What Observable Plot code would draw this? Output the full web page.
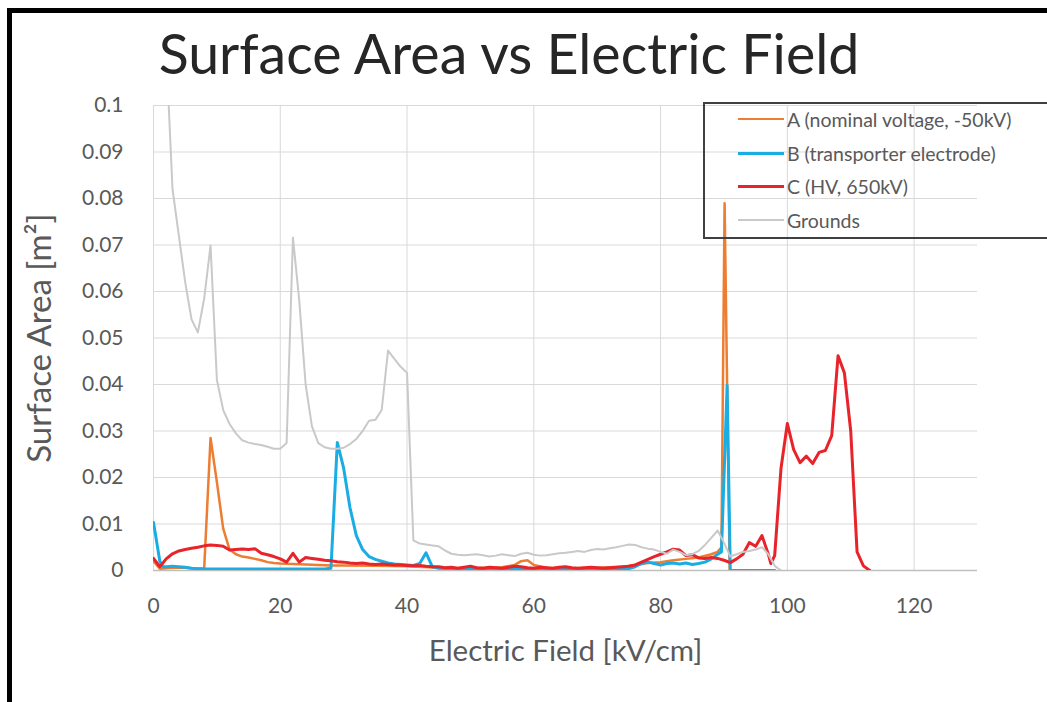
<!DOCTYPE html>
<html>
<head>
<meta charset="utf-8">
<script src="https://cdn.jsdelivr.net/npm/d3@7"></script>
<script src="https://cdn.jsdelivr.net/npm/@observablehq/plot@0.6"></script>
<style>
  html, body { margin: 0; padding: 0; background: #fff; }
  #page { position: relative; width: 1047px; height: 702px; overflow: hidden; background: #fff; font-family: Lato, "Open Sans", sans-serif; }
  #frame { position: absolute; left: 7px; top: 8px; width: 1200px; height: 900px; border-left: 5px solid #000; border-top: 5px solid #000; box-sizing: border-box; }
  #title { position: absolute; left: 0; top: 20px; width: 1018px; text-align: center; font-size: 55.5px; line-height: 66px; color: #262626; white-space: nowrap; }
  #chart { position: absolute; left: 0; top: 95px; }
  #legend { position: absolute; left: 703px; top: 102px; width: 400px; height: 137px; border: 2px solid #404040; box-sizing: border-box; }
  .item { position: absolute; left: 33px; height: 24px; display: flex; align-items: center; font-size: 19.5px; color: #595959; white-space: nowrap; }
  .swatch { width: 46px; margin-right: 3px; }
</style>
</head>
<body>
<div id="page">
  <div id="frame"></div>
  <div id="title"></div>
  <div id="chart"></div>
  <div id="legend"></div>
</div>
<script>
// Chart text
const titleText = "Surface Area vs Electric Field";
const xLabel = "Electric Field [kV/cm]";
const yLabel = "Surface Area [m²]";

// Axis ticks and their labels
const xTicks = [0, 20, 40, 60, 80, 100, 120];
const xTickLabels = ["0", "20", "40", "60", "80", "100", "120"];
const yTicks = [0, 0.01, 0.02, 0.03, 0.04, 0.05, 0.06, 0.07, 0.08, 0.09, 0.1];
const yTickLabels = ["0", "0.01", "0.02", "0.03", "0.04", "0.05", "0.06", "0.07", "0.08", "0.09", "0.1"];

// Series names and colours
const seriesNames = ["A (nominal voltage, -50kV)", "B (transporter electrode)", "C (HV, 650kV)", "Grounds"];
const seriesColors = ["#ED7D31", "#1AADE4", "#E8232A", "#C9C9C9"];
const seriesWidths = [2.5, 3, 3, 2];

// A (nominal voltage, -50kV): field [kV/cm] and surface area [m²]
const aField = [0, 1, 2, 3, 4, 5, 6, 7, 8, 9, 10, 11, 12, 13, 14, 15, 16, 17, 18, 19, 20, 22, 24, 26, 28, 30, 35, 40, 45, 50, 55, 57, 58, 59, 60, 62, 66, 70, 74, 76, 78, 80, 82, 84, 86, 88, 89, 89.6, 90.1, 90.9];
const aArea  = [0.002, 0.0004, 0.0005, 0.0006, 0.0006, 0.0006, 0.0005, 0.0004, 0.0005, 0.0285, 0.019, 0.009, 0.0045, 0.0035, 0.003, 0.0028, 0.0025, 0.0022, 0.0018, 0.0016, 0.0015, 0.0014, 0.0013, 0.0012, 0.0011, 0.0011, 0.001, 0.0009, 0.0006, 0.0005, 0.0007, 0.0012, 0.002, 0.0022, 0.0012, 0.0006, 0.0005, 0.0006, 0.0008, 0.0012, 0.0016, 0.0018, 0.0022, 0.0025, 0.0028, 0.0035, 0.004, 0.005, 0.079, 0.0003];

// B (transporter electrode)
const bField = [0, 1, 1.5, 2, 3, 4, 5, 6, 7, 8, 12, 16, 20, 24, 27, 28, 29, 30, 31, 32, 33, 34, 35, 36, 37, 38, 39, 40, 41, 42, 43, 44, 45, 50, 55, 60, 65, 70, 75, 76, 77, 78, 79, 80, 81, 82, 83, 84, 85, 86, 87, 88, 89, 89.6, 90.5, 91, 94, 98];
const bArea  = [0.0103, 0.002, 0.0008, 0.0008, 0.0009, 0.0008, 0.0007, 0.0005, 0.0004, 0.0003, 0.0003, 0.0003, 0.0003, 0.0003, 0.0003, 0.0005, 0.0275, 0.022, 0.0135, 0.0075, 0.0045, 0.003, 0.0024, 0.002, 0.0016, 0.0014, 0.0013, 0.0012, 0.0011, 0.0015, 0.0038, 0.0008, 0.0005, 0.0003, 0.0003, 0.0003, 0.0003, 0.0003, 0.0004, 0.0008, 0.0015, 0.0018, 0.0015, 0.0012, 0.0015, 0.0016, 0.0014, 0.0016, 0.0013, 0.0015, 0.0018, 0.0025, 0.0035, 0.004, 0.0398, 0, 0, 0];

// C (HV, 650kV)
const cField = [0, 1, 2, 3, 4, 5, 6, 7, 8, 9, 10, 11, 12, 13, 14, 15, 16, 17, 18, 19, 20, 21, 22, 23, 24, 25, 26, 27, 28, 29, 30, 31, 32, 33, 34, 35, 36, 37, 38, 39, 40, 41, 42, 43, 44, 45, 46, 47, 48, 49, 50, 51, 52, 53, 54, 55, 56, 57, 58, 59, 60, 61, 62, 63, 64, 65, 66, 67, 68, 69, 70, 71, 72, 73, 74, 75, 76, 77, 78, 79, 80, 81, 82, 83, 84, 85, 86, 87, 88, 89, 90, 91, 92, 93, 94, 95, 96, 97, 97.4, 98, 99, 100, 101, 102, 103, 104, 105, 106, 107, 108, 109, 110, 111, 112, 113];
const cArea  = [0.0026, 0.0008, 0.0025, 0.0036, 0.0042, 0.0045, 0.0048, 0.005, 0.0053, 0.0055, 0.0054, 0.0052, 0.0044, 0.0045, 0.0046, 0.0045, 0.0047, 0.0037, 0.0034, 0.003, 0.0025, 0.0018, 0.0037, 0.0018, 0.0028, 0.0026, 0.0024, 0.0022, 0.0021, 0.0019, 0.0018, 0.0016, 0.0015, 0.0016, 0.0014, 0.0013, 0.0014, 0.0013, 0.0012, 0.0012, 0.0011, 0.001, 0.0011, 0.0009, 0.0008, 0.0008, 0.0006, 0.0007, 0.0005, 0.0007, 0.0009, 0.0006, 0.0005, 0.0007, 0.0006, 0.0005, 0.0007, 0.0009, 0.0008, 0.0006, 0.0005, 0.0007, 0.0006, 0.0005, 0.0007, 0.0008, 0.0006, 0.0005, 0.0006, 0.0007, 0.0006, 0.0005, 0.0006, 0.0007, 0.0008, 0.0009, 0.0012, 0.0018, 0.0024, 0.003, 0.0035, 0.004, 0.0046, 0.0044, 0.0032, 0.0034, 0.0027, 0.0026, 0.0028, 0.0026, 0.0022, 0.0017, 0.0025, 0.0035, 0.006, 0.0052, 0.0075, 0.0035, 0.0015, 0.0032, 0.022, 0.0316, 0.026, 0.0232, 0.0246, 0.023, 0.0254, 0.0258, 0.029, 0.0462, 0.0425, 0.03, 0.004, 0.001, 0];

// Grounds
const gField = [2, 3, 4, 5, 6, 7, 8, 9, 10, 11, 12, 13, 14, 15, 16, 17, 18, 19, 20, 21, 22, 23, 24, 25, 26, 27, 28, 29, 30, 31, 32, 33, 34, 35, 36, 37, 38, 39, 40, 41, 42, 43, 44, 45, 46, 47, 48, 49, 50, 51, 52, 53, 54, 55, 56, 57, 58, 59, 60, 61, 62, 63, 64, 65, 66, 67, 68, 69, 70, 71, 72, 73, 74, 75, 76, 77, 78, 79, 80, 81, 82, 83, 84, 85, 86, 87, 88, 89, 90, 91, 92, 93, 94, 95, 96, 97, 98, 99];
const gArea  = [0.112, 0.082, 0.072, 0.062, 0.054, 0.0512, 0.0585, 0.0699, 0.041, 0.0345, 0.0315, 0.0295, 0.028, 0.0275, 0.0272, 0.027, 0.0266, 0.0262, 0.0262, 0.0274, 0.0716, 0.058, 0.04, 0.031, 0.0274, 0.0265, 0.0262, 0.0262, 0.0264, 0.0272, 0.0283, 0.03, 0.0322, 0.0324, 0.0345, 0.0473, 0.0455, 0.0438, 0.0425, 0.0065, 0.0058, 0.0056, 0.0054, 0.0052, 0.0043, 0.0036, 0.0034, 0.0033, 0.0034, 0.0035, 0.0033, 0.003, 0.0032, 0.0035, 0.0033, 0.0031, 0.0036, 0.0038, 0.0034, 0.0032, 0.0033, 0.0035, 0.0037, 0.0038, 0.004, 0.0042, 0.004, 0.0044, 0.0046, 0.0045, 0.0048, 0.005, 0.0053, 0.0056, 0.0055, 0.005, 0.0047, 0.0045, 0.004, 0.0036, 0.0045, 0.004, 0.0033, 0.0035, 0.0042, 0.0055, 0.007, 0.0086, 0.006, 0.003, 0.0035, 0.004, 0.0042, 0.0045, 0.005, 0.0035, 0.001, 0];

const toRows = (fields, areas) => fields.map((x, i) => ({x, y: areas[i]}));
const seriesRows = [
  toRows(aField, aArea),
  toRows(bField, bArea),
  toRows(cField, cArea),
  toRows(gField, gArea)
];

const fmt = (ticks, labels) => d => labels[ticks.indexOf(d)];

const chart = Plot.plot({
  width: 1047,
  height: 607,
  marginTop: 10,
  marginBottom: 132,
  marginLeft: 153,
  marginRight: 70,
  style: {fontFamily: "Lato, 'Open Sans', sans-serif", background: "transparent", overflow: "visible"},
  x: {domain: [0, 130], label: null},
  y: {domain: [0, 0.1], label: null},
  marks: [
    Plot.gridY(yTicks, {stroke: "#d9d9d9", strokeOpacity: 1}),
    Plot.gridX(xTicks, {stroke: "#d9d9d9", strokeOpacity: 1}),
    Plot.ruleY([0], {stroke: "#bfbfbf", strokeWidth: 1.5}),
    Plot.axisX(xTicks, {tickSize: 0, tickPadding: 28, fontSize: 21, fill: "#595959", tickFormat: fmt(xTicks, xTickLabels)}),
    Plot.axisY(yTicks, {tickSize: 0, tickPadding: 30, fontSize: 21, fill: "#595959", tickFormat: fmt(yTicks, yTickLabels)}),
    ...seriesRows.map((rows, i) => Plot.line(rows, {
      x: "x", y: "y",
      stroke: seriesColors[i],
      strokeWidth: seriesWidths[i],
      strokeLinejoin: "round",
      clip: true
    })),
    Plot.text([yLabel], {frameAnchor: "left", textAnchor: "middle", dx: -113, rotate: -90, fontSize: 33, fill: "#595959"}),
    Plot.text([xLabel], {frameAnchor: "bottom", textAnchor: "middle", dy: 90, fontSize: 29.5, fill: "#595959"})
  ]
});
document.getElementById("chart").appendChild(chart);

document.getElementById("title").textContent = titleText;

// Legend drawn over the plot area, transparent background
const legend = document.getElementById("legend");
const rowTops = [3, 37, 70, 104];
seriesNames.forEach((name, i) => {
  const item = document.createElement("div");
  item.className = "item";
  item.style.top = rowTops[i] + "px";
  const sw = document.createElement("div");
  sw.className = "swatch";
  sw.style.borderTop = seriesWidths[i] + "px solid " + seriesColors[i];
  const label = document.createElement("span");
  label.textContent = name;
  item.appendChild(sw);
  item.appendChild(label);
  legend.appendChild(item);
});
</script>
</body>
</html>
